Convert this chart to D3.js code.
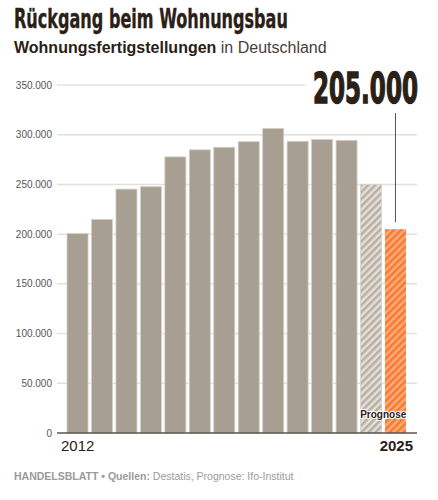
<script src="https://d3js.org/d3.v7.min.js"></script>
<html>
<head>
<style>
  body { margin: 0; background: #fff; }
  svg text { font-family: "Liberation Sans", Arial, sans-serif; }
  svg text.cond { font-family: "Liberation Sans Narrow", "DejaVu Sans Condensed", sans-serif; }
</style>
</head>
<body>
<div id="chart"></div>
<script>
    // data
    const years = ["2012","2013","2014","2015","2016","2017","2018","2019","2020","2021","2022","2023","2024","2025"];
    const completions = [200500, 214800, 245300, 247700, 277700, 284800, 287400, 293000, 306400, 293400, 295300, 294400, 250000, 205000];
    const forecastYears = ["2024","2025"];
    const yTicks = [0, 50000, 100000, 150000, 200000, 250000, 300000, 350000];

    const width = 438, height = 500;
    const fmt = d3.format(",.0f");
    const de = v => fmt(v).replace(/,/g, ".");

    const svg = d3.select("#chart").append("svg")
        .attr("width", width).attr("height", height);

    const defs = svg.append("defs");
    function hatch(id, bg, fg) {
        const p = defs.append("pattern")
            .attr("id", id)
            .attr("patternUnits", "userSpaceOnUse")
            .attr("width", 5).attr("height", 5)
            .attr("patternTransform", "rotate(45)");
        p.append("rect").attr("width", 5).attr("height", 5).attr("fill", bg);
        p.append("rect").attr("width", 2.5).attr("height", 5).attr("fill", fg);
    }
    hatch("hatchGray", "#e4dfd8", "#b7afa4");
    hatch("hatchOrange", "#ffab75", "#f57a35");

    // squeeze a condensed text horizontally so it fills a given width
    function fitText(sel, x0, y0, targetW) {
        const w = sel.node().getBBox().width;
        const sx = targetW / w;
        sel.attr("transform", `translate(${x0},${y0}) scale(${sx},1)`);
    }

    const x = d3.scaleBand()
        .domain(years)
        .range([65.3, 407.7])
        .paddingInner(0.14)
        .paddingOuter(0.07);

    const y = d3.scaleLinear()
        .domain([0, 350000])
        .range([433, 85]);

    // title
    const title = svg.append("text")
        .attr("class", "cond")
        .attr("font-size", 26).attr("font-weight", "bold")
        .attr("fill", "#2b2016")
        .attr("stroke", "#2b2016").attr("stroke-width", 0.35)
        .text("Rückgang beim Wohnungsbau");
    fitText(title, 14, 28, 274);

    const sub = svg.append("text")
        .attr("x", 14).attr("y", 53)
        .attr("font-size", 16).attr("fill", "#2b2016");
    sub.append("tspan").attr("font-weight", "bold").text("Wohnungsfertigstellungen");
    sub.append("tspan").attr("fill", "#4a4038").text(" in Deutschland");

    // grid
    const grid = svg.append("g");
    grid.selectAll("line").data(yTicks.filter(d => d > 0)).join("line")
        .attr("x1", 57)
        .attr("x2", d => d === 350000 ? 305 : 417)
        .attr("y1", d => y(d)).attr("y2", d => y(d))
        .attr("stroke", "#e2e0dc").attr("stroke-width", 1.5);

    grid.selectAll("text").data(yTicks).join("text")
        .attr("x", 52).attr("y", d => y(d) + 3.5)
        .attr("text-anchor", "end")
        .attr("font-size", 10).attr("fill", "#555")
        .text(d => de(d));

    // bars
    const data = years.map((yr, i) => ({ year: yr, value: completions[i] }));
    svg.append("g").selectAll("rect").data(data).join("rect")
        .attr("x", d => x(d.year))
        .attr("width", x.bandwidth())
        .attr("y", d => y(d.value))
        .attr("height", d => y(0) - y(d.value))
        .attr("fill", d => d.year === "2025" ? "url(#hatchOrange)" : d.year === "2024" ? "url(#hatchGray)" : "#a89f93")
        .attr("stroke", d => d.year === "2025" ? "none" : "#d6d0c7")
        .attr("stroke-width", 0.8);

    // baseline
    svg.append("line")
        .attr("x1", 57).attr("x2", 417)
        .attr("y1", y(0)).attr("y2", y(0))
        .attr("stroke", "#5a534c").attr("stroke-width", 1.5);

    // Prognose label
    const fx0 = x(forecastYears[0]), fx1 = x(forecastYears[1]) + x.bandwidth();
    svg.append("text")
        .attr("x", (fx0 + fx1) / 2).attr("y", 418)
        .attr("text-anchor", "middle")
        .attr("font-size", 10).attr("font-weight", "bold")
        .attr("fill", "#2b2016")
        .attr("stroke", "#fff").attr("stroke-width", 2).attr("paint-order", "stroke")
        .text("Prognose");

    // x labels
    svg.append("text")
        .attr("x", x("2012") - 6).attr("y", 451)
        .attr("font-size", 15).attr("fill", "#2b2016")
        .text("2012");
    svg.append("text")
        .attr("x", 413).attr("y", 451)
        .attr("text-anchor", "end")
        .attr("font-size", 15).attr("font-weight", "bold").attr("fill", "#2b2016")
        .text("2025");

    // annotation
    const lastVal = completions[completions.length - 1];
    const ax = x("2025") + x.bandwidth() / 2;
    svg.append("line")
        .attr("x1", ax).attr("x2", ax)
        .attr("y1", 113).attr("y2", y(lastVal) - 7)
        .attr("stroke", "#555").attr("stroke-width", 1);
    const big = svg.append("text")
        .attr("class", "cond")
        .attr("font-size", 43).attr("font-weight", "bold")
        .attr("fill", "#2b2016")
        .attr("stroke", "#2b2016").attr("stroke-width", 1.4)
        .text(de(lastVal));
    fitText(big, 313, 103, 105);

    // footer
    const foot = svg.append("text")
        .attr("x", 14).attr("y", 480)
        .attr("font-size", 10.5).attr("fill", "#9a9a9a");
    foot.append("tspan").attr("font-weight", "bold").text("HANDELSBLATT • Quellen:");
    foot.append("tspan").text(" Destatis, Prognose: Ifo-Institut");
</script>
</body>
</html>
